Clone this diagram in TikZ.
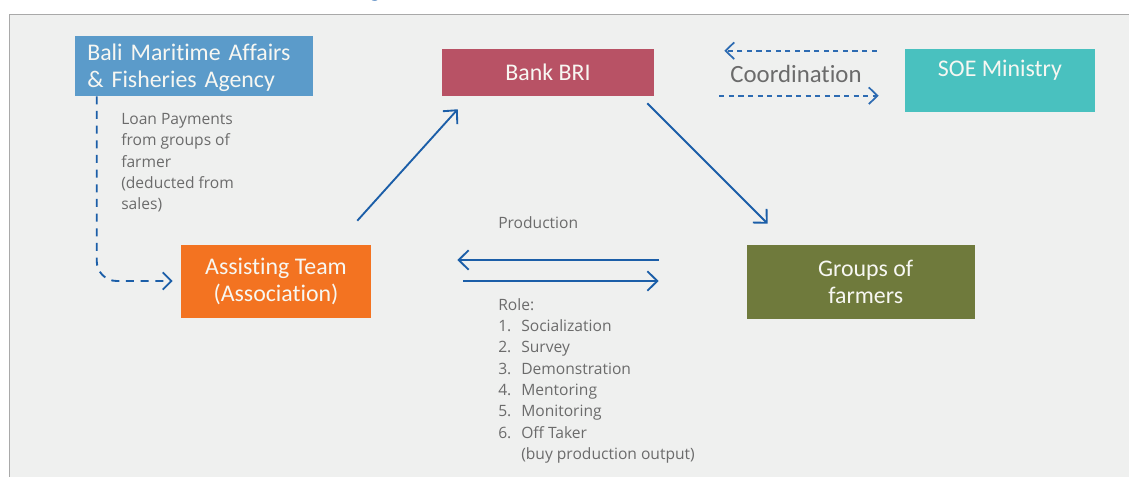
\documentclass[tikz,border=0pt]{standalone}
\usepackage{fontspec}
\setmainfont{Carlito}[Ligatures={NoCommon,NoContextual}]
\newfontfamily\greyfont{Open Sans}
\usetikzlibrary{arrows.meta}
\definecolor{bgpanel}{HTML}{EFF0EF}
\definecolor{framegrey}{HTML}{A9A9A9}
\definecolor{balicol}{HTML}{5B9BCA}
\definecolor{bankcol}{HTML}{B85265}
\definecolor{soecol}{HTML}{49C1BF}
\definecolor{assistcol}{HTML}{F37321}
\definecolor{groupcol}{HTML}{6F7A3C}
\definecolor{arrowblue}{HTML}{1B5EA8}
\definecolor{dashblue}{HTML}{2D6BB2}
\definecolor{greytext}{HTML}{6B6B6B}
\definecolor{boxtext}{HTML}{F7F7F2}
\tikzset{
  boxnode/.style={rectangle, inner sep=0pt, text=boxtext, font=\fontsize{17.9}{20.25}\selectfont, align=center},
  greylabel/.style={inner sep=0pt, text=greytext, font=\greyfont\fontsize{11.7}{16.0}\selectfont, align=left},
  solidarrow/.style={draw=arrowblue, line width=1.4pt, -{Straight Barb[length=7.5pt,width=14.5pt,line width=1.4pt]}},
  coordarrow/.style={draw=dashblue, line width=1.3pt, dash pattern=on 3.9pt off 3.3pt, -{Straight Barb[length=6.5pt,width=12.5pt,line width=1.3pt]}},
  loanarrow/.style={draw=arrowblue, line width=1.4pt, dash pattern=on 6pt off 5pt, rounded corners=15pt, -{Straight Barb[length=6.5pt,width=13pt,line width=1.4pt]}}
}
\begin{document}
\begin{tikzpicture}[x=0.75pt,y=-0.75pt]
\useasboundingbox (0,0) rectangle (1129,477);
\fill[white] (0,0) rectangle (1129,477);
\fill[bgpanel] (9,14) rectangle (1129,477);
\draw[framegrey, line width=1.1pt] (9.5,477) -- (9.5,14.5) -- (1129,14.5);
% cut-off title letter at the top edge
\node[anchor=base, text=dashblue, font=\fontsize{16}{18}\selectfont, inner sep=0pt] (titlecut) at (375,-2) {g};

% boxes
\node[boxnode, fill=balicol, minimum width=178.5pt, minimum height=45pt, text width=160pt, align=left, text height=15pt] (bali) at (194,66) {Bali Maritime Affairs\\\& Fisheries Agency};
\node[boxnode, fill=bankcol, minimum width=159pt, minimum height=35.25pt] (bank) at (548,72.5) {Bank BRI};
\node[boxnode, fill=soecol, minimum width=142.5pt, minimum height=47.25pt, text height=12pt, text depth=17.25pt] (soe) at (1000,80.5) {SOE Ministry};
\node[boxnode, fill=assistcol, minimum width=142.5pt, minimum height=54.75pt] (assist) at (276,281.5) {Assisting Team\\(Association)};
\node[boxnode, fill=groupcol, minimum width=171pt, minimum height=55.5pt] (groups) at (861,282) {\hspace*{7pt}Groups of\\\hspace*{7pt}farmers};

% labels
\node[anchor=base, inner sep=0pt, text=greytext, font=\fontsize{18.6}{20}\selectfont] (coord) at (796,83) {Coordination};
\node[greylabel, anchor=north west] (loan) at (121,113) {Loan Payments\\from groups of\\farmer\\(deducted from\\sales)};
\node[greylabel, anchor=base west] (prod) at (498,229) {Production};
\node[greylabel, anchor=north west] (role) at (498,298) {Role:\\
\makebox[17.25pt][l]{1.}Socialization\\
\makebox[17.25pt][l]{2.}Survey\\
\makebox[17.25pt][l]{3.}Demonstration\\
\makebox[17.25pt][l]{4.}Mentoring\\
\makebox[17.25pt][l]{5.}Monitoring\\
\makebox[17.25pt][l]{6.}Off Taker\\
\hspace*{17.25pt}(buy production output)};

% connectors
\draw[solidarrow] ([shift={(-14,-24)}]assist.north east) -- ([shift={(16,13)}]bank.south west);
\draw[solidarrow] ([shift={(-7,7)}]bank.south east) -- ([shift={(21,-21)}]groups.north west);
\draw[solidarrow] ([shift={(-88,-22)}]groups.west) -- ([shift={(86,-21.5)}]assist.east);
\draw[solidarrow] ([shift={(92,-0.5)}]assist.east) -- ([shift={(-88,-1)}]groups.west);
\draw[coordarrow] ([shift={(-28,2)}]soe.north west) -- ([shift={(70,2)}]bank.north east);
\draw[coordarrow] ([shift={(65,47)}]bank.north east) -- ([shift={(-26,47)}]soe.north west);
\draw[loanarrow] ([shift={(22,0)}]bali.south west) |- ([shift={(-8,-0.5)}]assist.west);
\end{tikzpicture}
\end{document}
